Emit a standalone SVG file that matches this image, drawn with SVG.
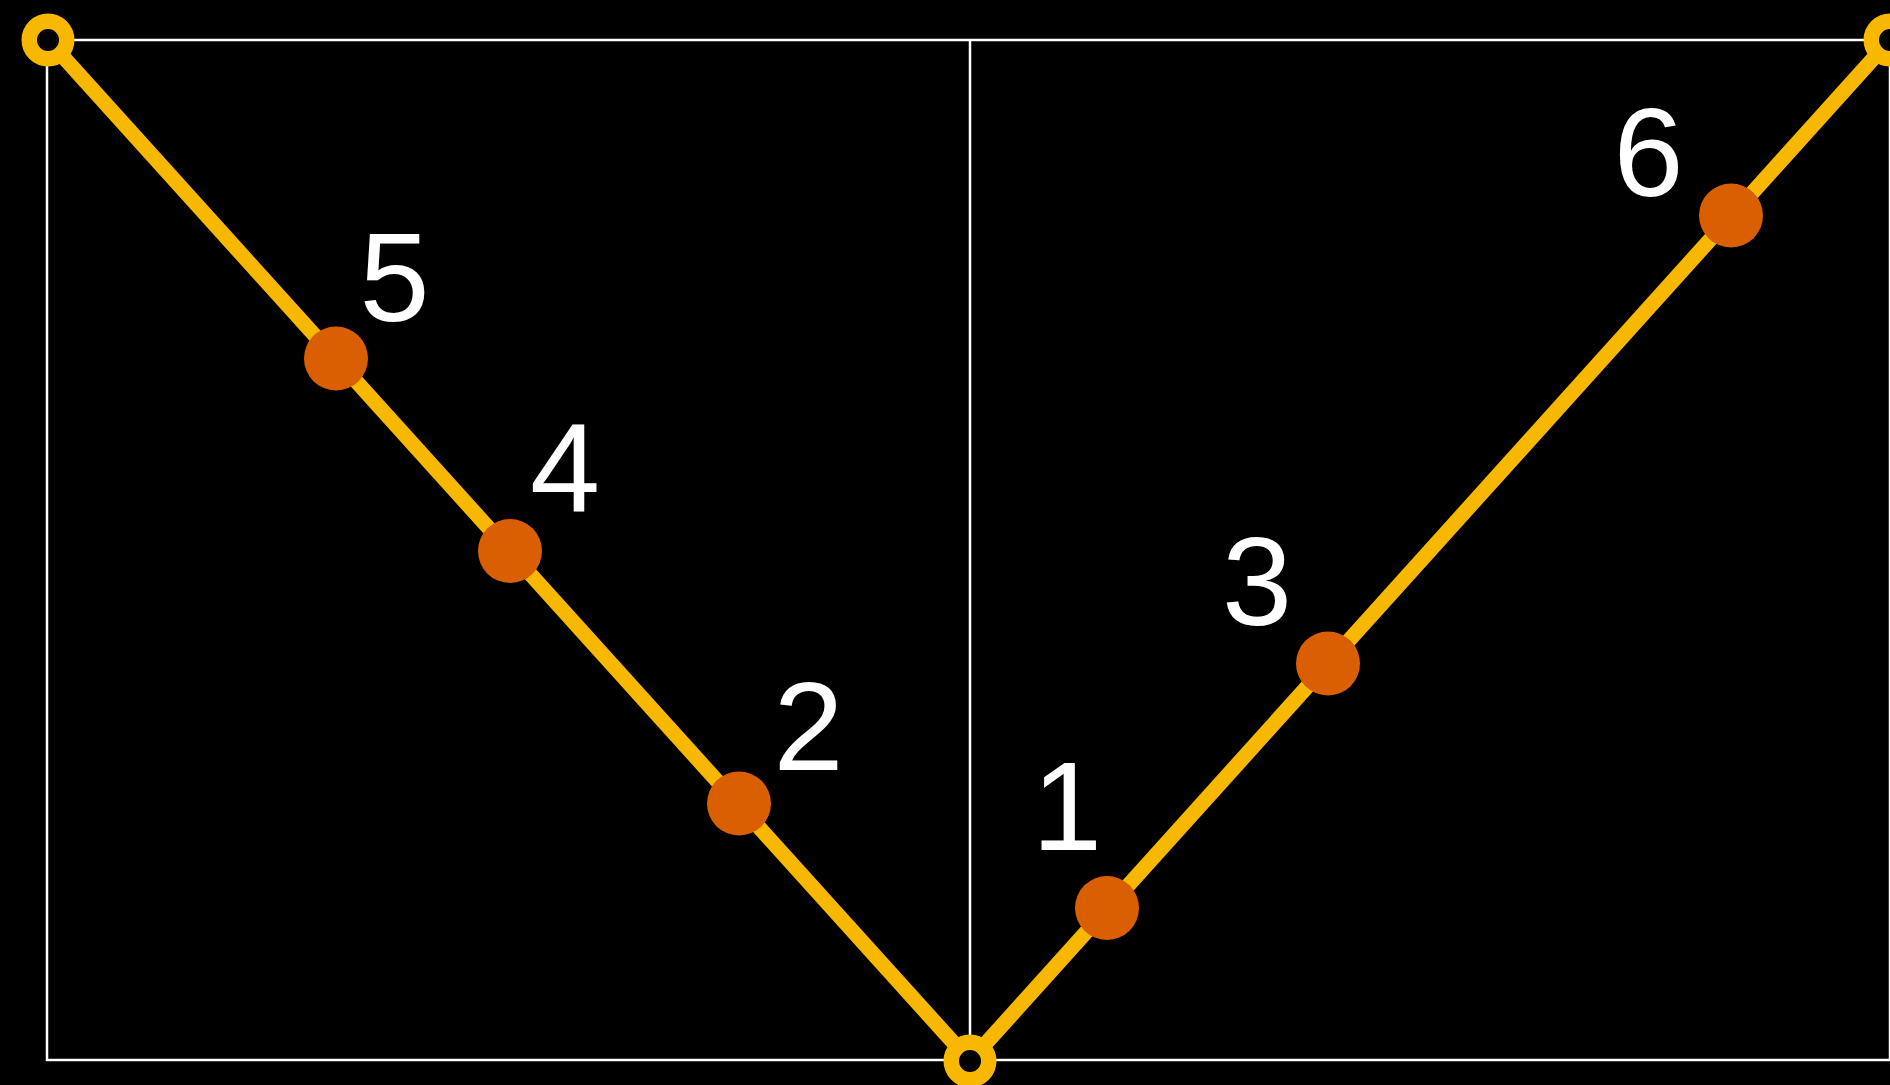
<svg xmlns="http://www.w3.org/2000/svg" width="1890" height="1085" viewBox="0 0 1890 1085">
  <style>
    .frame { fill: none; stroke: #ffffff; stroke-width: 2.5; }
    .path { fill: none; stroke: #F9B800; stroke-width: 15; stroke-linecap: butt; }
    .ring { fill: #000000; stroke: #F9B800; stroke-width: 15.5; }
    .dot { fill: #D95F02; }
    .lbl { fill: #ffffff; font-family: "Liberation Sans", Arial, Helvetica, sans-serif; font-size: 126px; text-anchor: middle; }
  </style>
  <rect x="0" y="0" width="1890" height="1085" fill="#000000"/>
  <g id="frame">
    <rect class="frame" x="47" y="40" width="1843" height="1020"/>
    <line class="frame" x1="970" y1="40" x2="970" y2="1060"/>
  </g>
  <g id="connectors">
    <line class="path" x1="48" y1="40" x2="970" y2="1061"/>
    <line class="path" x1="970" y1="1061" x2="1890" y2="40"/>
  </g>
  <g id="end-top-left"><circle class="ring" cx="48" cy="40" r="18.75"/></g>
  <g id="end-top-right"><circle class="ring" cx="1890" cy="40" r="18.75"/></g>
  <g id="end-bottom"><circle class="ring" cx="970" cy="1061" r="18.75"/></g>
  <g id="node-5"><circle class="dot" cx="336" cy="358.5" r="32"/><text class="lbl" x="394.5" y="321">5</text></g>
  <g id="node-4"><circle class="dot" cx="510" cy="551" r="32"/><text class="lbl" x="565" y="511.5">4</text></g>
  <g id="node-2"><circle class="dot" cx="739" cy="803.5" r="32"/><text class="lbl" x="808.5" y="770">2</text></g>
  <g id="node-1"><circle class="dot" cx="1107" cy="908" r="32"/><text class="lbl" x="1067" y="850">1</text></g>
  <g id="node-3"><circle class="dot" cx="1328" cy="663.5" r="32"/><text class="lbl" x="1257" y="625">3</text></g>
  <g id="node-6"><circle class="dot" cx="1731" cy="215.5" r="32"/><text class="lbl" x="1648.5" y="196">6</text></g>
</svg>
